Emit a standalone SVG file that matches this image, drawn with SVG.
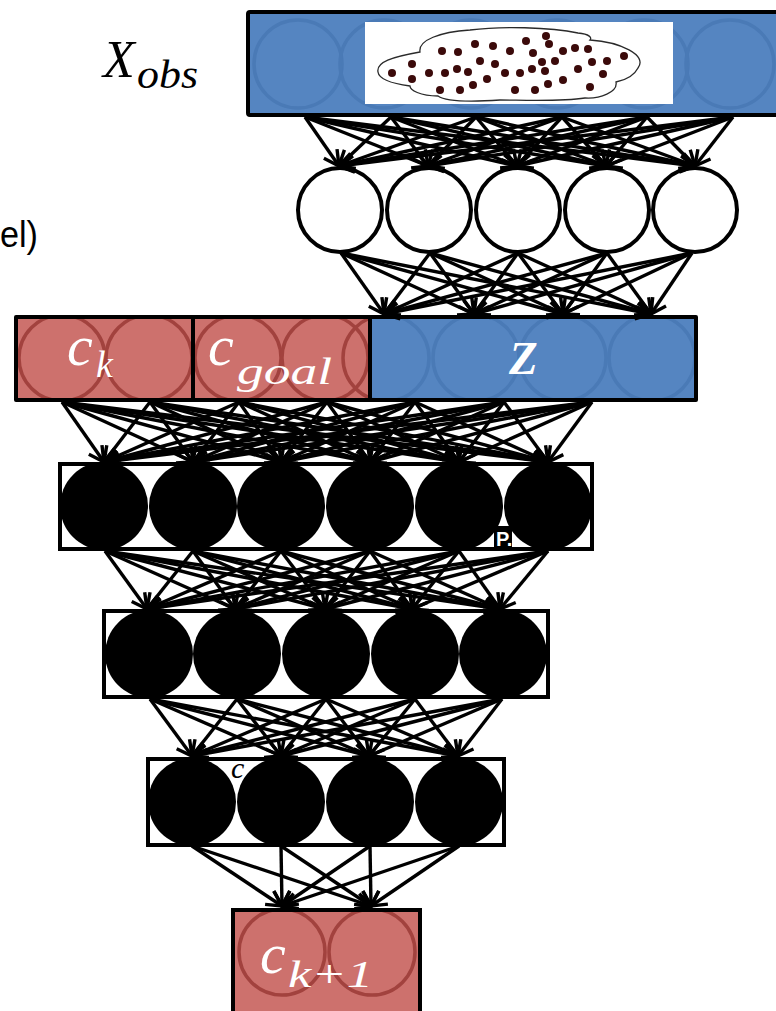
<svg xmlns="http://www.w3.org/2000/svg" width="776" height="1011" viewBox="0 0 776 1011">
  <style>
    .box{stroke:#000;stroke-width:4;stroke-linejoin:round}
    .blue{fill:#5585c1}
    .red{fill:#cd716d}
    .bring{fill:none;stroke:#4a7ab6;stroke-width:3.5}
    .rring{fill:none;stroke:#a2423e;stroke-width:3.5}
    .wnode{fill:#fff;stroke:#000;stroke-width:4}
    .bnode{fill:#000}
    .frame{fill:#fff;stroke:#000;stroke-width:4}
    .pt{fill:#3b0a0a}
    .math{font-family:"Liberation Serif","Times New Roman",serif;font-style:italic}
    .w{fill:#fff}
    .c line{stroke:#000;stroke-width:3.4;marker-end:url(#ah)}
  </style>
  <defs>
    <marker id="ah" markerUnits="userSpaceOnUse" viewBox="-18 -11 20 22" markerWidth="20" markerHeight="22" refX="0" refY="0" orient="auto">
      <path d="M-15,-8 L0,0 L-15,8" fill="none" stroke="#000" stroke-width="3.4"/>
    </marker>
    <clipPath id="clipTop"><rect x="248" y="12" width="540" height="103"/></clipPath>
    <clipPath id="clipCk"><rect x="16" y="317" width="177" height="83"/></clipPath>
    <clipPath id="clipGoal"><rect x="193" y="317" width="177" height="83"/></clipPath>
    <clipPath id="clipZ"><rect x="370" y="317" width="326" height="83"/></clipPath>
    <clipPath id="clipOut"><rect x="233" y="910" width="187" height="110"/></clipPath>
  </defs>

  <!-- side caption at the left edge -->
  <text x="0" y="247" font-family="Liberation Sans, Arial, sans-serif" font-size="37" textLength="38" lengthAdjust="spacingAndGlyphs" fill="#000">el)</text>

  <!-- observation input -->
  <text class="math" x="103" y="77" font-size="52" fill="#000">X</text>
  <text class="math" x="137" y="88" font-size="40" textLength="61" lengthAdjust="spacingAndGlyphs" fill="#000">obs</text>

  <g id="xobs">
    <rect class="box blue" x="248" y="12" width="540" height="103" rx="2"/>
    <g clip-path="url(#clipTop)">
      <circle class="bring" cx="298" cy="64" r="44"/>
      <circle class="bring" cx="384" cy="64" r="44"/>
      <circle class="bring" cx="471" cy="64" r="44"/>
      <circle class="bring" cx="557" cy="64" r="44"/>
      <circle class="bring" cx="644" cy="64" r="44"/>
      <circle class="bring" cx="730" cy="64" r="44"/>
    </g>
    <rect x="365" y="22" width="308" height="82" fill="#fff"/>
    <path d="M378,72 C376,62 392,57 420,52 C418,40 440,32 470,30 C500,26 550,27 578,33 C590,34 592,38 590,40 C620,42 648,55 638,68 C634,76 626,80 616,82 C618,92 600,99 585,98 C560,102 520,100 500,100 C470,102 445,101 438,96 C420,96 410,90 410,86 C395,84 379,80 378,72 Z" fill="none" stroke="#2a2a2a" stroke-width="1.3"/>
    <g class="pt">
      <circle cx="392" cy="73" r="4"/><circle cx="412" cy="64" r="4"/><circle cx="412" cy="79" r="4"/>
      <circle cx="429" cy="73" r="4"/><circle cx="440" cy="90" r="4"/><circle cx="442" cy="51" r="4"/>
      <circle cx="445" cy="73" r="4"/><circle cx="457" cy="69" r="4"/><circle cx="458" cy="52" r="4"/>
      <circle cx="460" cy="90" r="4"/><circle cx="468" cy="72" r="4"/><circle cx="473" cy="85" r="4"/>
      <circle cx="475" cy="44" r="4"/><circle cx="480" cy="61" r="4"/><circle cx="487" cy="79" r="4"/>
      <circle cx="493" cy="46" r="4"/><circle cx="495" cy="64" r="4"/><circle cx="505" cy="73" r="4"/>
      <circle cx="510" cy="51" r="4"/><circle cx="515" cy="90" r="4"/><circle cx="520" cy="73" r="4"/>
      <circle cx="526" cy="41" r="4"/><circle cx="532" cy="69" r="4"/><circle cx="533" cy="53" r="4"/>
      <circle cx="535" cy="90" r="4"/><circle cx="542" cy="62" r="4"/><circle cx="546" cy="36" r="4"/>
      <circle cx="545" cy="71" r="4"/><circle cx="549" cy="44" r="4"/><circle cx="548" cy="84" r="4"/>
      <circle cx="555" cy="61" r="4"/><circle cx="563" cy="51" r="4"/><circle cx="563" cy="80" r="4"/>
      <circle cx="575" cy="48" r="4"/><circle cx="578" cy="69" r="4"/><circle cx="588" cy="49" r="4"/>
      <circle cx="590" cy="87" r="4"/><circle cx="592" cy="62" r="4"/><circle cx="603" cy="74" r="4"/>
      <circle cx="607" cy="61" r="4"/><circle cx="624" cy="56" r="4"/>
    </g>
  </g>

  <!-- encoder hidden layer -->
  <g id="enc">
    <circle class="wnode" cx="340" cy="210" r="42"/>
    <circle class="wnode" cx="429" cy="210" r="42"/>
    <circle class="wnode" cx="518" cy="210" r="42"/>
    <circle class="wnode" cx="607" cy="210" r="42"/>
    <circle class="wnode" cx="695" cy="210" r="42"/>
  </g>

  <!-- conditioning + latent -->
  <g id="ck">
    <rect class="red" x="16" y="317" width="177" height="83"/>
    <g clip-path="url(#clipCk)">
      <circle class="rring" cx="62" cy="358" r="43"/>
      <circle class="rring" cx="149" cy="358" r="43"/>
    </g>
    <text class="math w" x="67" y="365" font-size="58">c</text>
    <text class="math w" x="96" y="377" font-size="38">k</text>
  </g>
  <g id="cgoal">
    <rect class="red" x="193" y="317" width="177" height="83"/>
    <g clip-path="url(#clipGoal)">
      <circle class="rring" cx="238" cy="358" r="43"/>
      <circle class="rring" cx="325" cy="358" r="43"/>
      <circle class="rring" cx="386" cy="358" r="43"/>
    </g>
    <text class="math w" x="208" y="365" font-size="58">c</text>
    <text class="math w" x="237" y="384" font-size="38" textLength="95" lengthAdjust="spacingAndGlyphs">goal</text>
  </g>
  <g id="z">
    <rect class="blue" x="370" y="317" width="326" height="83"/>
    <g clip-path="url(#clipZ)">
      <circle class="bring" cx="386" cy="358" r="43"/>
      <circle class="bring" cx="476" cy="358" r="43"/>
      <circle class="bring" cx="563" cy="358" r="43"/>
      <circle class="bring" cx="652" cy="358" r="43"/>
    </g>
    <text x="509" y="374" font-family="Liberation Serif, serif" font-style="italic" font-weight="bold" font-size="47" fill="#fff">Z</text>
  </g>
  <path d="M16,317 H696 V400 H16 Z M193,317 V400 M370,317 V400" fill="none" stroke="#000" stroke-width="4" stroke-linejoin="round"/>

  <!-- decoder layers -->
  <g id="h1">
    <rect class="frame" x="60" y="464" width="532" height="85"/>
    <circle class="bnode" cx="104" cy="506" r="44"/>
    <circle class="bnode" cx="193" cy="506" r="44"/>
    <circle class="bnode" cx="281" cy="506" r="44"/>
    <circle class="bnode" cx="370" cy="506" r="44"/>
    <circle class="bnode" cx="459" cy="506" r="44"/>
    <circle class="bnode" cx="548" cy="506" r="44"/>
    <rect x="494" y="526" width="18" height="22" fill="#000"/>
    <text x="496" y="546" font-family="Liberation Sans, Arial, sans-serif" font-weight="bold" font-size="20" fill="#fff">P.</text>
  </g>
  <g id="h2">
    <rect class="frame" x="104" y="611" width="444" height="86"/>
    <circle class="bnode" cx="149" cy="654" r="44"/>
    <circle class="bnode" cx="237" cy="654" r="44"/>
    <circle class="bnode" cx="326" cy="654" r="44"/>
    <circle class="bnode" cx="415" cy="654" r="44"/>
    <circle class="bnode" cx="503" cy="654" r="44"/>
  </g>
  <g id="h3">
    <rect class="frame" x="148" y="759" width="356" height="86"/>
    <text class="math" x="231" y="778" font-size="30" fill="#000">c</text>
    <circle class="bnode" cx="192" cy="802" r="44"/>
    <circle class="bnode" cx="281" cy="802" r="44"/>
    <circle class="bnode" cx="370" cy="802" r="44"/>
    <circle class="bnode" cx="459" cy="802" r="44"/>
  </g>

  <!-- output -->
  <g id="ck1">
    <rect class="red" x="233" y="910" width="187" height="110"/>
    <g clip-path="url(#clipOut)">
      <circle class="rring" cx="282" cy="952" r="43"/>
      <circle class="rring" cx="372" cy="952" r="43"/>
    </g>
    <rect x="233" y="910" width="187" height="110" fill="none" stroke="#000" stroke-width="4"/>
    <text class="math w" x="260" y="973" font-size="58">c</text>
    <text class="math w" x="288" y="987" font-size="38" textLength="85" lengthAdjust="spacingAndGlyphs">k+1</text>
  </g>

  <!-- fully connected edges -->
  <g class="c" id="edges">
    <!-- X_obs -> encoder -->
    <line x1="305" y1="117" x2="339" y2="166"/><line x1="305" y1="117" x2="428" y2="166"/><line x1="305" y1="117" x2="517" y2="166"/><line x1="305" y1="117" x2="606" y2="166"/><line x1="305" y1="117" x2="695" y2="166"/>
    <line x1="391" y1="117" x2="339" y2="166"/><line x1="391" y1="117" x2="428" y2="166"/><line x1="391" y1="117" x2="517" y2="166"/><line x1="391" y1="117" x2="606" y2="166"/><line x1="391" y1="117" x2="695" y2="166"/>
    <line x1="476" y1="117" x2="339" y2="166"/><line x1="476" y1="117" x2="428" y2="166"/><line x1="476" y1="117" x2="517" y2="166"/><line x1="476" y1="117" x2="606" y2="166"/><line x1="476" y1="117" x2="695" y2="166"/>
    <line x1="562" y1="117" x2="339" y2="166"/><line x1="562" y1="117" x2="428" y2="166"/><line x1="562" y1="117" x2="517" y2="166"/><line x1="562" y1="117" x2="606" y2="166"/><line x1="562" y1="117" x2="695" y2="166"/>
    <line x1="647" y1="117" x2="339" y2="166"/><line x1="647" y1="117" x2="428" y2="166"/><line x1="647" y1="117" x2="517" y2="166"/><line x1="647" y1="117" x2="606" y2="166"/><line x1="647" y1="117" x2="695" y2="166"/>
    <line x1="733" y1="117" x2="339" y2="166"/><line x1="733" y1="117" x2="428" y2="166"/><line x1="733" y1="117" x2="517" y2="166"/><line x1="733" y1="117" x2="606" y2="166"/><line x1="733" y1="117" x2="695" y2="166"/>
    <!-- encoder -> Z -->
    <line x1="341" y1="253" x2="384" y2="314"/><line x1="341" y1="253" x2="474" y2="314"/><line x1="341" y1="253" x2="563" y2="314"/><line x1="341" y1="253" x2="651" y2="314"/>
    <line x1="430" y1="253" x2="384" y2="314"/><line x1="430" y1="253" x2="474" y2="314"/><line x1="430" y1="253" x2="563" y2="314"/><line x1="430" y1="253" x2="651" y2="314"/>
    <line x1="518" y1="253" x2="384" y2="314"/><line x1="518" y1="253" x2="474" y2="314"/><line x1="518" y1="253" x2="563" y2="314"/><line x1="518" y1="253" x2="651" y2="314"/>
    <line x1="607" y1="253" x2="384" y2="314"/><line x1="607" y1="253" x2="474" y2="314"/><line x1="607" y1="253" x2="563" y2="314"/><line x1="607" y1="253" x2="651" y2="314"/>
    <line x1="692" y1="253" x2="384" y2="314"/><line x1="692" y1="253" x2="474" y2="314"/><line x1="692" y1="253" x2="563" y2="314"/><line x1="692" y1="253" x2="651" y2="314"/>
    <!-- conditioning + Z -> h1 -->
    <line x1="62" y1="402" x2="104" y2="462"/><line x1="62" y1="402" x2="193" y2="462"/><line x1="62" y1="402" x2="281" y2="462"/><line x1="62" y1="402" x2="370" y2="462"/><line x1="62" y1="402" x2="459" y2="462"/><line x1="62" y1="402" x2="548" y2="462"/>
    <line x1="150" y1="402" x2="104" y2="462"/><line x1="150" y1="402" x2="193" y2="462"/><line x1="150" y1="402" x2="281" y2="462"/><line x1="150" y1="402" x2="370" y2="462"/><line x1="150" y1="402" x2="459" y2="462"/><line x1="150" y1="402" x2="548" y2="462"/>
    <line x1="239" y1="402" x2="104" y2="462"/><line x1="239" y1="402" x2="193" y2="462"/><line x1="239" y1="402" x2="281" y2="462"/><line x1="239" y1="402" x2="370" y2="462"/><line x1="239" y1="402" x2="459" y2="462"/><line x1="239" y1="402" x2="548" y2="462"/>
    <line x1="327" y1="402" x2="104" y2="462"/><line x1="327" y1="402" x2="193" y2="462"/><line x1="327" y1="402" x2="281" y2="462"/><line x1="327" y1="402" x2="370" y2="462"/><line x1="327" y1="402" x2="459" y2="462"/><line x1="327" y1="402" x2="548" y2="462"/>
    <line x1="415" y1="402" x2="104" y2="462"/><line x1="415" y1="402" x2="193" y2="462"/><line x1="415" y1="402" x2="281" y2="462"/><line x1="415" y1="402" x2="370" y2="462"/><line x1="415" y1="402" x2="459" y2="462"/><line x1="415" y1="402" x2="548" y2="462"/>
    <line x1="504" y1="402" x2="104" y2="462"/><line x1="504" y1="402" x2="193" y2="462"/><line x1="504" y1="402" x2="281" y2="462"/><line x1="504" y1="402" x2="370" y2="462"/><line x1="504" y1="402" x2="459" y2="462"/><line x1="504" y1="402" x2="548" y2="462"/>
    <line x1="592" y1="402" x2="104" y2="462"/><line x1="592" y1="402" x2="193" y2="462"/><line x1="592" y1="402" x2="281" y2="462"/><line x1="592" y1="402" x2="370" y2="462"/><line x1="592" y1="402" x2="459" y2="462"/><line x1="592" y1="402" x2="548" y2="462"/>
    <!-- h1 -> h2 -->
    <line x1="105" y1="551" x2="147" y2="609"/><line x1="105" y1="551" x2="235" y2="609"/><line x1="105" y1="551" x2="325" y2="609"/><line x1="105" y1="551" x2="412" y2="609"/><line x1="105" y1="551" x2="500" y2="609"/>
    <line x1="193" y1="551" x2="147" y2="609"/><line x1="193" y1="551" x2="235" y2="609"/><line x1="193" y1="551" x2="325" y2="609"/><line x1="193" y1="551" x2="412" y2="609"/><line x1="193" y1="551" x2="500" y2="609"/>
    <line x1="281" y1="551" x2="147" y2="609"/><line x1="281" y1="551" x2="235" y2="609"/><line x1="281" y1="551" x2="325" y2="609"/><line x1="281" y1="551" x2="412" y2="609"/><line x1="281" y1="551" x2="500" y2="609"/>
    <line x1="370" y1="551" x2="147" y2="609"/><line x1="370" y1="551" x2="235" y2="609"/><line x1="370" y1="551" x2="325" y2="609"/><line x1="370" y1="551" x2="412" y2="609"/><line x1="370" y1="551" x2="500" y2="609"/>
    <line x1="459" y1="551" x2="147" y2="609"/><line x1="459" y1="551" x2="235" y2="609"/><line x1="459" y1="551" x2="325" y2="609"/><line x1="459" y1="551" x2="412" y2="609"/><line x1="459" y1="551" x2="500" y2="609"/>
    <line x1="548" y1="551" x2="147" y2="609"/><line x1="548" y1="551" x2="235" y2="609"/><line x1="548" y1="551" x2="325" y2="609"/><line x1="548" y1="551" x2="412" y2="609"/><line x1="548" y1="551" x2="500" y2="609"/>
    <!-- h2 -> h3 -->
    <line x1="150" y1="699" x2="192" y2="756"/><line x1="150" y1="699" x2="281" y2="756"/><line x1="150" y1="699" x2="369" y2="756"/><line x1="150" y1="699" x2="458" y2="756"/>
    <line x1="237" y1="699" x2="192" y2="756"/><line x1="237" y1="699" x2="281" y2="756"/><line x1="237" y1="699" x2="369" y2="756"/><line x1="237" y1="699" x2="458" y2="756"/>
    <line x1="326" y1="699" x2="192" y2="756"/><line x1="326" y1="699" x2="281" y2="756"/><line x1="326" y1="699" x2="369" y2="756"/><line x1="326" y1="699" x2="458" y2="756"/>
    <line x1="415" y1="699" x2="192" y2="756"/><line x1="415" y1="699" x2="281" y2="756"/><line x1="415" y1="699" x2="369" y2="756"/><line x1="415" y1="699" x2="458" y2="756"/>
    <line x1="502" y1="699" x2="192" y2="756"/><line x1="502" y1="699" x2="281" y2="756"/><line x1="502" y1="699" x2="369" y2="756"/><line x1="502" y1="699" x2="458" y2="756"/>
    <!-- h3 -> output -->
    <line x1="192" y1="846" x2="282" y2="906"/><line x1="192" y1="846" x2="371" y2="906"/>
    <line x1="281" y1="846" x2="282" y2="906"/><line x1="281" y1="846" x2="371" y2="906"/>
    <line x1="370" y1="846" x2="282" y2="906"/><line x1="370" y1="846" x2="371" y2="906"/>
    <line x1="459" y1="846" x2="282" y2="906"/><line x1="459" y1="846" x2="371" y2="906"/>
  </g>
</svg>
